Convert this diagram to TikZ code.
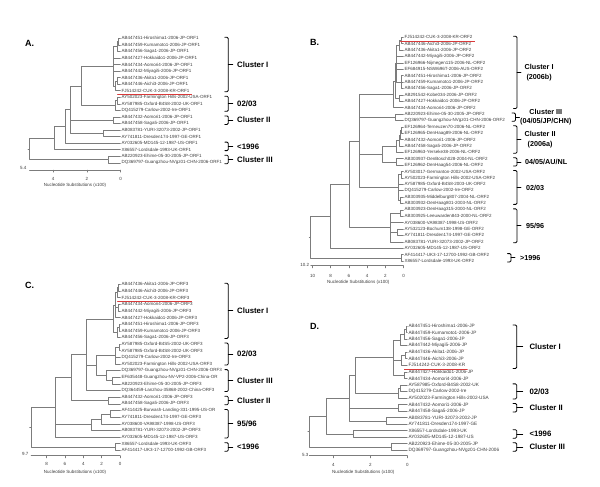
\documentclass[tikz,border=0pt]{standalone}
\usepackage{fontspec}
\setmainfont{Liberation Sans}
\definecolor{ink}{HTML}{3C3C3C}
\definecolor{twig}{HTML}{7C7C7C}
\definecolor{redmark}{HTML}{D93A3A}

\begin{document}
\begin{tikzpicture}[x=1pt,y=-1pt,line cap=round,line join=round,
  leaf/.style={anchor=west,inner sep=1pt,text=ink,font=\fontsize{4.5}{5}\selectfont},
  twig/.style={draw=twig,line width=.45pt},
  num/.style={inner sep=0pt,text=ink,font=\fontsize{4.5}{5}\selectfont},
  panel/.style={anchor=west,inner sep=0pt,font=\fontsize{9}{10}\selectfont\bfseries},
  brace/.style={draw=black,line width=.8pt,rounded corners=1.2pt},
  clab/.style={anchor=west,inner sep=0pt,align=center,font=\fontsize{7.8}{10}\selectfont\bfseries},
  redline/.style={draw=redmark,line width=.6pt}]
  \useasboundingbox (0,0) rectangle (600,487);

  % Tree A (ORF1)
  \node[panel] (pa) at (25,43) {A.};
  \begin{scope}[shift={(0pt,-38.3pt)},y=-6.55pt]
    \foreach \lab [count=\i from 0] in {AB447451-Hiroshima1-2006-JP-ORF1,AB447459-Kumamoto1-2006-JP-ORF1,
      AB447456-Saga1-2006-JP-ORF1,AB447427-Hokkaido1-2006-JP-ORF1,AB447434-Aomori4-2006-JP-ORF1,
      AB447442-Miyagi5-2006-JP-ORF1,AB447436-Akita1-2006-JP-ORF1,AB447446-Aichi3-2006-JP-ORF1,
      FJ514242-CUK-3-2008-KR-ORF1,AY502023-Farmington Hills-2002-USA-ORF1,AY587985-Oxford-B4S8-2002-UK-ORF1,
      DQ415279-Carlow-2002-Ire-ORF1,AB447432-Aomori1-2006-JP-ORF1,AB447458-Saga5-2006-JP-ORF1,
      AB083781-YURI-32073-2002-JP-ORF1,AY741811-Dresden174-1997-GE-ORF1,AY032605-MD145-12-1987-US-ORF1,
      X86557-Lordsdale-1993-UK-ORF1,AB220923-Ehime-05-30-2005-JP-ORF1,DQ369797-Guangzhou-NVgz01-CHN-2006-ORF1}
      \node[leaf] (a\i) at (120.5,\i) {\lab};
    \coordinate (a01) at (118.5,0.5);
    \coordinate (a012) at (117.5,1.25);
    \coordinate (a67) at (117.5,6.5);
    \coordinate (a678) at (115.5,7.25);
    \coordinate (aCI) at (113,4.25);
    \coordinate (a910) at (117.5,9.5);
    \coordinate (a0203) at (115,10.25);
    \coordinate (aN4) at (81.7,7.25);
    \coordinate (aCII) at (113,12.5);
    \coordinate (a1415) at (103,14.5);
    \coordinate (aN3) at (70,10.875);
    \coordinate (aN2) at (65,13.44);
    \coordinate (aN1) at (54,15.22);
    \coordinate (aCIII) at (108,18.5);
    \coordinate (aR) at (29.4,16.86);
    \foreach \p/\c in {a01/a0,a01/a1,a012/a01,a012/a2,aCI/a012,aCI/a3,aCI/a4,aCI/a5,aCI/a678,
      a67/a6,a67/a7,a678/a67,a678/a8,a910/a9,a910/a10,a0203/a910,a0203/a11,aN4/aCI,aN4/a0203,
      aCII/a12,aCII/a13,a1415/a14,a1415/a15,aN3/aN4,aN3/aCII,aN3/a1415,aN2/aN3,aN2/a16,
      aN1/aN2,aN1/a17,aCIII/a18,aCIII/a19,aR/aN1,aR/aCIII}
      \draw[twig] (\p) |- (\c);
    \draw[twig] (aR) -- ++(-1.5,0);
    \draw[redline] ([xshift=-3pt,yshift=-.8pt]a8.south west) -- ([xshift=1pt,yshift=-.8pt]a8.south east);
    \foreach \t/\b/\lab [count=\j] in {-0.15/8.15/{Cluster I},8.85/11.15/{02/03},11.85/13.15/{Cluster II},
      15.85/17.15/{<1996},17.85/19.15/{Cluster III}}{
      \draw[brace] (224.8,\t) -- (228.3,\t) -- (228.3,\b) -- (224.8,\b);
      \draw[brace] (228.3,{(\t+\b)/2}) -- ++(4.5,0);
      \node[clab] (ka\j) at (237,{(\t+\b)/2}) {\lab};
    }
  \end{scope}
  \draw[twig] (29.4,170) -- (120.7,170);
  \foreach \d in {0,2,4}{
    \draw[twig] ({120.7-16.9*\d},170) -- ++(0,2.2);
    \node[num] (sa\d) at ({120.7-16.9*\d},178.5) {\d};
  }
  \node[num,anchor=east] (la) at (26.5,167.7) {5.4};
  \node[num] (ta) at (75,185.7) {Nucleotide Substitutions (x100)};

  % Tree B (ORF2)
  \node[panel] (pb) at (310,42.7) {B.};
  \begin{scope}[shift={(0pt,-37.3pt)},y=-6.39pt]
    \foreach \lab [count=\i from 0] in {FJ514242-CUK-3-2008-KR-ORF2,AB447446-Aichi3-2006-JP-ORF2,
      AB447436-Akita1-2006-JP-ORF2,AB447442-Miyagi5-2006-JP-ORF2,EF126966-Nijmegen115-2006-NL-ORF2,
      EF684915-NSW696T-2006-AUS-ORF2,AB447451-Hiroshima1-2006-JP-ORF2,AB447459-Kumamoto1-2006-JP-ORF2,
      AB447456-Saga1-2006-JP-ORF2,AB291542-Kobe034-2006-JP-ORF2,AB447427-Hokkaido1-2006-JP-ORF2,
      AB447434-Aomori4-2006-JP-ORF2,AB220923-Ehime-05-30-2005-JP-ORF2,DQ369797-Guangzhou-NVgz01-CHN-2006-ORF2,
      EF126964-Terneuzen70-2006-NL-ORF2,EF126965-DenHaag89-2006-NL-ORF2,AB447432-Aomori1-2006-JP-ORF2,
      AB447458-Saga5-2006-JP-ORF2,EF126963-Yerseke38-2006-NL-ORF2,AB303937-DenBosch028-2004-NL-ORF2,
      EF126962-DenHaag54-2006-NL-ORF2,AY503017-Germanton-2002-USA-ORF2,AY502023-Farmington Hills-2002-USA-ORF2,
      AY587985-Oxford-B4S8-2003-UK-ORF2,DQ415279-Carlow-2002-Ire-ORF2,AB303935-Middelburg807-2004-NL-ORF2,
      AB303932-DenHaag801-2003-NL-ORF2,AB303923-DenHaag315-2000-NL-ORF2,AB303925-Leeuwarden843-2000-NL-ORF2,
      AY038600-VA98387-1998-US-ORF2,AY532123-Bochum138-1998-GE-ORF2,AY741811-Dresden174-1997-GE-ORF2,
      AB083781-YURI-32073-2002-JP-ORF2,AY032605-MD145-12-1987-US-ORF2,AF414417-UK3-17-12700-1992-GB-ORF2,
      X86557-Lordsdale-1993-UK-ORF2}
      \node[leaf] (b\i) at (403.5,\i) {\lab};
    \coordinate (b01) at (401,0.5);
    \coordinate (b012) at (399,1.25);
    \coordinate (b678) at (401.5,7);
    \coordinate (bBa) at (396.5,4.125);
    \coordinate (b910) at (399,9.5);
    \coordinate (bBb) at (395,6.81);
    \coordinate (bCI) at (393,8.91);
    \coordinate (bCIII) at (395.5,12.5);
    \coordinate (b1415) at (401,14.5);
    \coordinate (b1416) at (400,15.25);
    \coordinate (b1417) at (399,16.125);
    \coordinate (bCII) at (396,17.06);
    \coordinate (b0405) at (396.5,19.5);
    \coordinate (bE) at (382.5,18.28);
    \coordinate (b2122) at (401,21.5);
    \coordinate (b2526) at (400,25.5);
    \coordinate (b0203) at (398.5,23.5);
    \coordinate (bD) at (359.5,16.2);
    \coordinate (b2728) at (400,27.5);
    \coordinate (b3031) at (397,30.5);
    \coordinate (b9596) at (390,29.75);
    \coordinate (bF) at (349.3,22.98);
    \coordinate (bG) at (330,27.99);
    \coordinate (b3435) at (401,34.5);
    \coordinate (bR) at (310.7,31.24);
    \foreach \p/\c in {b01/b0,b01/b1,b012/b01,b012/b2,bBa/b012,bBa/b3,bBa/b4,bBa/b5,bBa/b678,
      b678/b6,b678/b7,b678/b8,b910/b9,b910/b10,bBb/bBa,bBb/b910,bCI/bBb,bCI/b11,bCIII/b12,bCIII/b13,
      b1415/b14,b1415/b15,b1416/b1415,b1416/b16,b1417/b1416,b1417/b17,bCII/b1417,bCII/b18,
      b0405/b19,b0405/b20,bE/bCII,bE/b0405,b2122/b21,b2122/b22,b2526/b25,b2526/b26,
      b0203/b2122,b0203/b23,b0203/b24,b0203/b2526,bD/bCI,bD/bCIII,bD/bE,bD/b0203,
      b2728/b27,b2728/b28,b3031/b30,b3031/b31,b9596/b2728,b9596/b29,b9596/b3031,b9596/b32,
      bF/bD,bF/b9596,bG/bF,bG/b33,b3435/b34,b3435/b35,bR/bG,bR/b3435}
      \draw[twig] (\p) |- (\c);
    \draw[twig] (bR) -- ++(-1.5,0);
    \draw[redline] ([xshift=-3pt,yshift=-.8pt]b0.south west) -- ([xshift=1pt,yshift=-.8pt]b0.south east);
    \foreach \t/\b/\bx/\lx/\lab [count=\j] in {-0.15/11.15/517/524.5/{Cluster I\\(2006b)},
      11.85/13.15/515.5/520/{Cluster III\\(04/05/JP/CHN)},13.85/18.15/517/524.5/{Cluster II\\(2006a)},
      18.85/20.15/517/525/{04/05/AU/NL},20.85/26.15/517/526/{02/03},26.85/32.15/517/526/{95/96},
      33.85/35.15/511/520/{>1996}}{
      \draw[brace] (\bx-3.5,\t) -- (\bx,\t) -- (\bx,\b) -- (\bx-3.5,\b);
      \draw[brace] (\bx,{(\t+\b)/2}) -- ++(4,0);
      \node[clab,font=\fontsize{7.2}{9.5}\selectfont\bfseries] (kb\j) at (\lx,{(\t+\b)/2}) {\lab};
    }
  \end{scope}
  \draw[twig] (310.7,265.7) -- (403.5,265.7);
  \foreach \d in {0,2,4,6,8,10}{
    \draw[twig] ({403.5-9.1*\d},265.7) -- ++(0,2.2);
    \node[num] (sb\d) at ({403.5-9.1*\d},275.5) {\d};
  }
  \node[num,anchor=east] (lb) at (309.3,264.5) {10.2};
  \node[num] (tb) at (358.3,282.7) {Nucleotide Substitutions (x100)};

  % Tree C (ORF3)
  \node[panel] (pc) at (25,285.7) {C.};
  \begin{scope}[shift={(0pt,-284.3pt)},y=-6.64pt]
    \foreach \lab [count=\i from 0] in {AB447436-Akita1-2006-JP-ORF3,AB447446-Aichi3-2006-JP-ORF3,
      FJ514242-CUK-3-2008-KR-ORF3,AB447434-Aomori4-2006-JP-ORF3,AB447442-Miyagi5-2006-JP-ORF3,
      AB447427-Hokkaido1-2006-JP-ORF3,AB447451-Hiroshima1-2006-JP-ORF3,AB447459-Kumamoto1-2006-JP-ORF3,
      AB447456-Saga1-2006-JP-ORF3,AY587985-Oxford-B4S5-2002-UK-ORF3,AY587985-Oxford-B4S8-2002-UK-ORF3,
      DQ415279-Carlow-2002-Ire-ORF3,AY502023-Farmington Hills-2002-USA-ORF3,
      DQ369797-Guangzhou-NVgz01-CHN-2006-ORF3,EF635448-Guangzhou-NV-VP2-2006-China-OR,
      AB220923-Ehime-05-30-2005-JP-ORF3,DQ364459-Lanzhou-35868-2002-China-ORF3,
      AB447432-Aomori1-2006-JP-ORF3,AB447458-Saga5-2006-JP-ORF3,AF414425-Burwash-Landing-331-1995-US-OR,
      AY741811-Dresden174-1997-GE-ORF3,AY038600-VA98387-1998-US-ORF3,AB083781-YURI-32073-2002-JP-ORF3,
      AY032605-MD145-12-1987-US-ORF3,X86557-Lordsdale-1993-UK-ORF3,AF414417-UK3-17-12700-1992-GB-ORF3}
      \node[leaf] (c\i) at (120.5,\i) {\lab};
    \coordinate (c01) at (118.7,0.5);
    \coordinate (c012) at (117.5,1.25);
    \coordinate (c34) at (118,3.5);
    \coordinate (cA) at (115.5,3.125);
    \coordinate (c67) at (119.3,6.5);
    \coordinate (c678) at (117.5,7.25);
    \coordinate (cCI) at (113,5.19);
    \coordinate (c910) at (119.3,9.5);
    \coordinate (c0203) at (115,10.75);
    \coordinate (c1415) at (112,14.5);
    \coordinate (c1315) at (106.7,13.75);
    \coordinate (cH) at (96.7,12.25);
    \coordinate (cJ) at (86,10.6);
    \coordinate (cCII) at (108,17.5);
    \coordinate (cK) at (71.7,14.05);
    \coordinate (c1920) at (110,19.5);
    \coordinate (c1921) at (101.7,20.25);
    \coordinate (c1922) at (91.7,21.125);
    \coordinate (cM) at (55,18.53);
    \coordinate (c2425) at (115,24.5);
    \coordinate (cR) at (31,21.5);
    \foreach \p/\c in {c01/c0,c01/c1,c012/c01,c012/c2,c34/c3,c34/c4,cA/c012,cA/c34,cA/c5,
      c67/c6,c67/c7,c678/c67,c678/c8,cCI/cA,cCI/c678,c910/c9,c910/c10,c0203/c910,c0203/c11,c0203/c12,
      c1415/c14,c1415/c15,c1315/c13,c1315/c1415,cH/c0203,cH/c1315,cJ/cCI,cJ/cH,cJ/c16,
      cCII/c17,cCII/c18,cK/cJ,cK/cCII,c1920/c19,c1920/c20,c1921/c1920,c1921/c21,c1922/c1921,c1922/c22,
      cM/cK,cM/c1922,cM/c23,c2425/c24,c2425/c25,cR/cM,cR/c2425}
      \draw[twig] (\p) |- (\c);
    \draw[twig] (cR) -- ++(-1.5,0);
    \draw[redline] ([xshift=-3pt,yshift=-.8pt]c2.south west) -- ([xshift=1pt,yshift=-.8pt]c2.south east);
    \foreach \t/\b/\lab [count=\j] in {-0.15/8.15/{Cluster I},8.85/12.15/{02/03},12.85/16.15/{Cluster III},
      16.85/18.15/{Cluster II},18.85/23.15/{95/96},23.85/25.15/{<1996}}{
      \draw[brace] (224.8,\t) -- (228.3,\t) -- (228.3,\b) -- (224.8,\b);
      \draw[brace] (228.3,{(\t+\b)/2}) -- ++(4.5,0);
      \node[clab] (kc\j) at (237,{(\t+\b)/2}) {\lab};
    }
  \end{scope}
  \draw[twig] (31,455.7) -- (120,455.7);
  \foreach \d in {0,2,4,6,8}{
    \draw[twig] ({120-9.17*\d},455.7) -- ++(0,2.2);
    \node[num] (sc\d) at ({120-9.17*\d},464.3) {\d};
  }
  \node[num,anchor=east] (lc) at (28.5,454.3) {9.7};
  \node[num] (tc) at (75,472.3) {Nucleotide Substitutions (x100)};

  % Tree D (full genome)
  \node[panel] (pd) at (310,326.7) {D.};
  \begin{scope}[shift={(0pt,-326pt)},y=-6.54pt]
    \foreach \lab [count=\i from 0] in {AB447451-Hiroshima1-2006-JP,AB447459-Kumamoto1-2006-JP,
      AB447456-Saga1-2006-JP,AB447442-Miyagi5-2006-JP,AB447436-Akita1-2006-JP,AB447446-Aichi3-2006-JP,
      FJ514242-CUK-3-2008-KR,AB447427-Hokkaido1-2006-JP,AB447434-Aomori4-2006-JP,
      AY587985-Oxford-B4S8-2002-UK,DQ415279-Carlow-2002-Ire,AY502023-Farmington Hills-2002-USA,
      AB447432-Aomori1-2006-JP,AB447458-Saga5-2006-JP,AB083781-YURI-32073-2002-JP,
      AY741811-Dresden174-1997-GE,X86557-Lordsdale-1993-UK,AY032605-MD145-12-1987-US,
      AB220923-Ehime-05-30-2005-JP,DQ369797-Guangzhou-NVgz01-CHN-2006}
      \node[leaf,font=\fontsize{4.7}{5}\selectfont] (d\i) at (407.3,\i) {\lab};
    \coordinate (d01) at (406,0.5);
    \coordinate (d012) at (404.3,1.25);
    \coordinate (d0123) at (400,2.125);
    \coordinate (d45) at (405,4.5);
    \coordinate (d456) at (401,5.25);
    \coordinate (d78) at (404,7.5);
    \coordinate (dCI) at (393.3,4.81);
    \coordinate (d910) at (400,9.5);
    \coordinate (d0203) at (398.3,10.25);
    \coordinate (dN) at (355,7.53);
    \coordinate (dCII) at (398.3,12.5);
    \coordinate (d1415) at (386,14.5);
    \coordinate (dO) at (349.3,11.02);
    \coordinate (d1617) at (353.3,16.5);
    \coordinate (dP) at (326.7,13.76);
    \coordinate (dCIII) at (391.7,18.5);
    \coordinate (dR) at (309.3,16.13);
    \foreach \p/\c in {d01/d0,d01/d1,d012/d01,d012/d2,d0123/d012,d0123/d3,d45/d4,d45/d5,
      d456/d45,d456/d6,d78/d7,d78/d8,dCI/d0123,dCI/d456,dCI/d78,d910/d9,d910/d10,d0203/d910,d0203/d11,
      dN/dCI,dN/d0203,dCII/d12,dCII/d13,d1415/d14,d1415/d15,dO/dN,dO/dCII,dO/d1415,
      d1617/d16,d1617/d17,dP/dO,dP/d1617,dCIII/d18,dCIII/d19,dR/dP,dR/dCIII}
      \draw[twig] (\p) |- (\c);
    \draw[twig] (dR) -- ++(-1.5,0);
    \draw[redline] ([xshift=-3pt,yshift=-.8pt]d6.south west) -- ([xshift=1pt,yshift=-.8pt]d6.south east);
    \foreach \t/\b/\lab [count=\j] in {-0.15/6.5/{Cluster I},8.85/11.15/{02/03},11.85/13.15/{Cluster II},
      15.85/17.15/{<1996},17.85/19.15/{Cluster III}}{
      \draw[brace] (513,\t) -- (516.7,\t) -- (516.7,\b) -- (513,\b);
      \draw[brace] (516.7,{(\t+\b)/2}) -- ++(6,0);
      \node[clab] (kd\j) at (529.3,{(\t+\b)/2}) {\lab};
    }
  \end{scope}
  \draw[twig] (309.3,455.7) -- (407.3,455.7);
  \foreach \d in {0,2,4}{
    \draw[twig] ({407.3-18.5*\d},455.7) -- ++(0,2.2);
    \node[num] (sd\d) at ({407.3-18.5*\d},465) {\d};
  }
  \node[num,anchor=east] (ld) at (308.5,455) {5.3};
  \node[num] (td) at (363.3,472.3) {Nucleotide Substitutions (x100)};
\end{tikzpicture}
\end{document}
